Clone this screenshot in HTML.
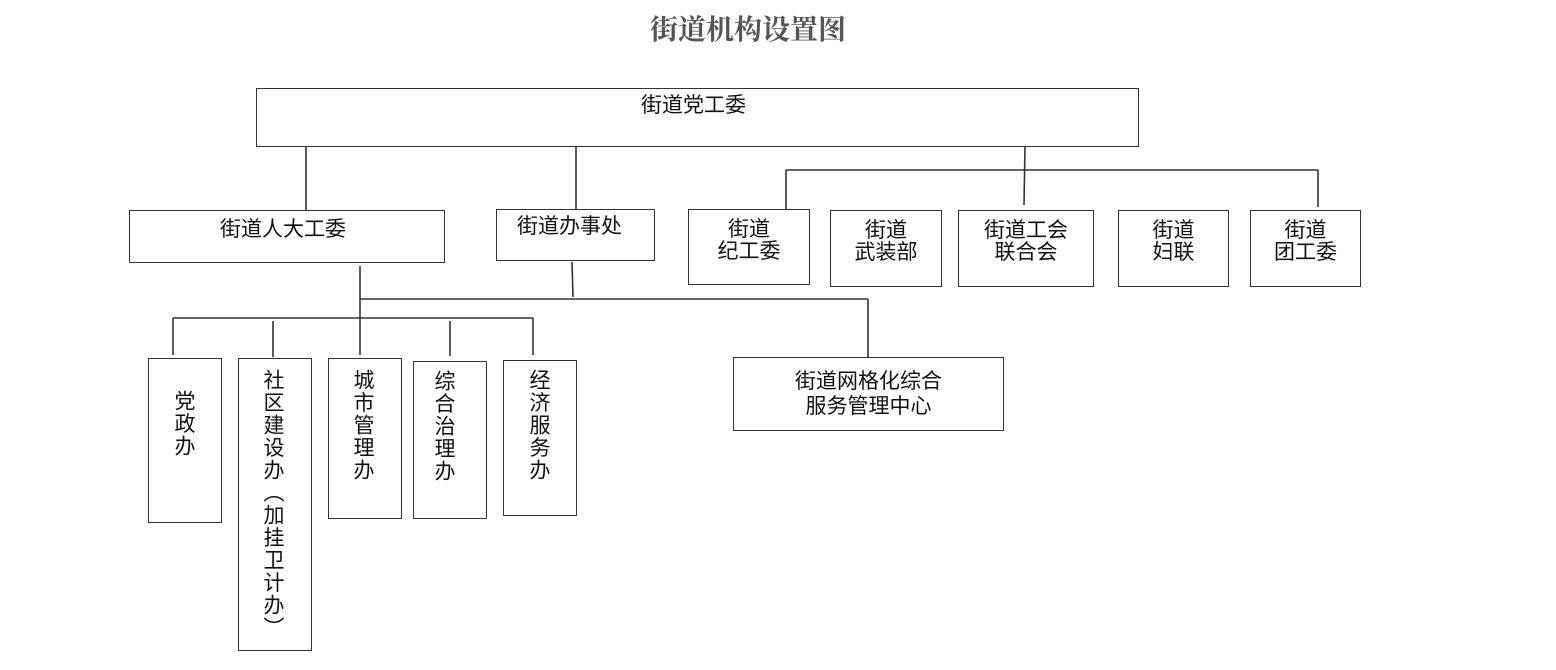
<!DOCTYPE html>
<html><head><meta charset="utf-8"><style>
body{margin:0;width:1556px;height:670px;background:#fff;position:relative;overflow:hidden;font-family:"Liberation Sans","Noto Sans CJK SC",sans-serif;color:#111}
.b{position:absolute;border:1.5px solid #333;box-sizing:border-box;background:#fff}
.t{position:absolute;font-size:21px;line-height:22px;white-space:nowrap}
.v{position:absolute;font-family:"Noto Sans CJK SC",sans-serif;font-size:21px;line-height:24px;width:24px;writing-mode:vertical-rl;text-orientation:mixed;letter-spacing:1.5px;white-space:nowrap}
svg{position:absolute;left:0;top:0}
</style></head><body>
<div class="t" style="left:650px;top:11px;font-family:'Noto Serif CJK SC',serif;font-size:28px;line-height:34px;font-weight:bold;color:#555">街道机构设置图</div>
<svg width="1556" height="670" stroke="#333" stroke-width="1.6" fill="none">
<line x1="306" y1="146" x2="306" y2="210"/>
<line x1="576" y1="146" x2="576" y2="209"/>
<line x1="1025" y1="146" x2="1024" y2="205"/>
<line x1="786" y1="170" x2="1318" y2="170"/>
<line x1="786" y1="170" x2="786" y2="209"/>
<line x1="1318" y1="170" x2="1318" y2="207"/>
<line x1="360" y1="266" x2="360" y2="355"/>
<line x1="360" y1="299" x2="868" y2="299"/>
<line x1="572" y1="262" x2="573" y2="297"/>
<line x1="868" y1="299" x2="868" y2="358"/>
<line x1="173" y1="318" x2="533" y2="318"/>
<line x1="173" y1="318" x2="173" y2="355"/>
<line x1="273" y1="321" x2="273" y2="357"/>
<line x1="450" y1="321" x2="450" y2="356"/>
<line x1="533" y1="318" x2="533" y2="355"/>
</svg>
<div class="b" style="left:256px;top:88px;width:883px;height:59px"></div>
<div class="t" style="left:641px;top:95px">街道党工委</div>
<div class="b" style="left:129px;top:210px;width:316px;height:53px"></div>
<div class="t" style="left:220px;top:219px">街道人大工委</div>
<div class="b" style="left:496px;top:209px;width:159px;height:52px"></div>
<div class="t" style="left:517px;top:216px">街道办事处</div>
<div class="b" style="left:688px;top:209px;width:122px;height:76px"></div>
<div class="t" style="left:688px;width:122px;text-align:center;top:219px">街道<br>纪工委</div>
<div class="b" style="left:830px;top:210px;width:112px;height:77px"></div>
<div class="t" style="left:830px;width:112px;text-align:center;top:220px">街道<br>武装部</div>
<div class="b" style="left:958px;top:210px;width:136px;height:77px"></div>
<div class="t" style="left:958px;width:136px;text-align:center;top:220px">街道工会<br>联合会</div>
<div class="b" style="left:1118px;top:210px;width:111px;height:77px"></div>
<div class="t" style="left:1118px;width:111px;text-align:center;top:220px">街道<br>妇联</div>
<div class="b" style="left:1250px;top:210px;width:111px;height:77px"></div>
<div class="t" style="left:1250px;width:111px;text-align:center;top:220px">街道<br>团工委</div>
<div class="b" style="left:148px;top:358px;width:74px;height:165px"></div>
<div class="v" style="left:173px;top:390px">党政办</div>
<div class="b" style="left:238px;top:358px;width:74px;height:293px"></div>
<div class="v" style="left:262px;top:369px">社区建设办（加挂卫计办）</div>
<div class="b" style="left:328px;top:358px;width:74px;height:161px"></div>
<div class="v" style="left:352px;top:369px">城市管理办</div>
<div class="b" style="left:413px;top:361px;width:74px;height:158px"></div>
<div class="v" style="left:433px;top:370px">综合治理办</div>
<div class="b" style="left:503px;top:360px;width:74px;height:156px"></div>
<div class="v" style="left:528px;top:369px">经济服务办</div>
<div class="b" style="left:733px;top:357px;width:271px;height:74px"></div>
<div class="t" style="left:733px;width:271px;text-align:center;top:369px;line-height:25px">街道网格化综合<br>服务管理中心</div>
</body></html>
